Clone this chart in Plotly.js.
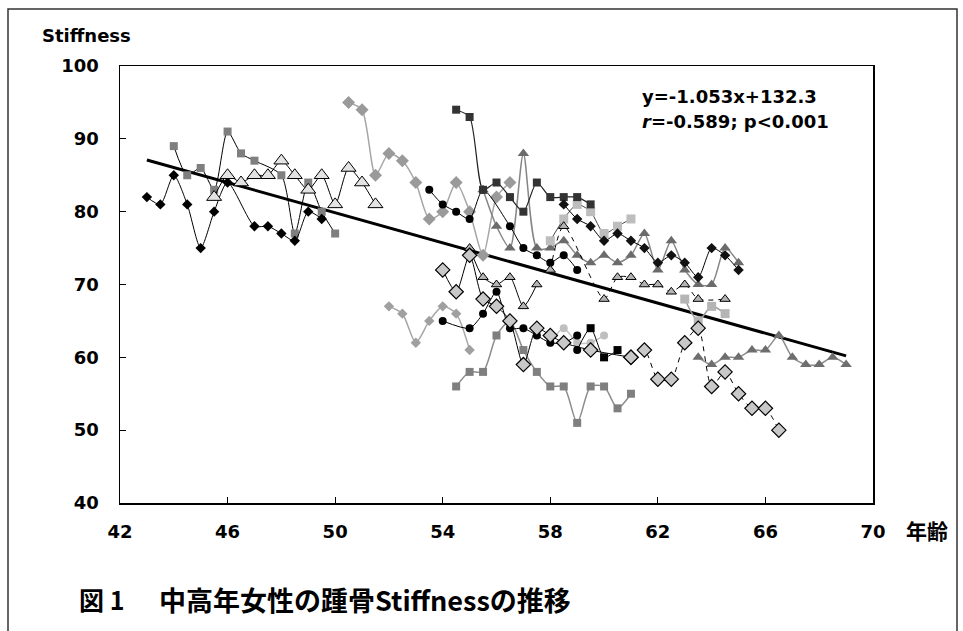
<!DOCTYPE html>
<html>
<head>
<meta charset="utf-8">
<script src="https://cdn.plot.ly/plotly-3.0.1.min.js"></script>
<style>html,body{margin:0;padding:0;background:#fff;}#chart{width:963px;height:631px;}</style>
</head>
<body>
<div id="chart"></div>
<script>
// ---- data (age, Stiffness) ----
const ax = [43,43.5,44,44.5,45,45.5,46,47,47.5,48,48.5,49,49.5];
const ay = [82,81,85,81,75,80,84,78,78,77,76,80,79];
const bx = [44,44.5,45,45.5,46,46.5,47,48,48.5,49,49.5,50];
const by = [89,85,86,83,91,88,87,85,77,84,80,77];
const cx = [45.5,46,46.5,47,47.5,48,48.5,49,49.5,50,50.5,51,51.5];
const cy = [82,85,84,85,85,87,85,83,85,81,86,84,81];
const dx = [50.5,51,51.5,52,52.5,53,53.5,54,54.5,55,55.5,56,56.5];
const dy = [95,94,85,88,87,84,79,80,84,80,74,82,84];
const ex = [53.5,54,54.5,55,55.5,56.5,57,57.5,58,58.5,59];
const ey = [83,81,80,79,83,78,75,74,73,74,72];
const fx = [54.5,55,55.5,56,56.5,57,57.5,58,58.5,59,59.5];
const fy = [94,93,83,84,82,80,84,82,82,82,81];
const gx = [55.5,56,56.5,57,57.5,58,58.5,59,59.5,60,60.5,61,61.5,62,62.5,63,63.5,64,64.5,65];
const gy = [83,78,75,88,75,75,76,74,73,74,73,74,77,72,76,72,70,70,75,73];
const h1x = [55,55.5,56,56.5,57,57.5];
const h1y = [75,71,70,71,67,70];
const h2x = [58,58.5,60,60.5,61,61.5,62,62.5,63,63.5,64.5];
const h2y = [72,78,68,71,71,70,70,69,70,68,68];
const ix = [58.5,59,59.5,60,60.5,61,61.5,62,62.5,63,63.5,64,64.5,65];
const iy = [81,79,78,76,77,76,75,73,74,73,71,75,74,72];
const j1x = [54,54.5,55,55.5,56,56.5,57,57.5,58,58.5,59.5,61];
const j1y = [72,69,74,68,67,65,59,64,63,62,61,60];
const j2x = [61,61.5,62,62.5,63,63.5,64,64.5,65,65.5,66,66.5];
const j2y = [60,61,57,57,62,64,56,58,55,53,53,50];
const kx = [54,55,55.5,56,56.5,57,57.5,58,58.5,59];
const ky = [65,64,66,69,64,64,63,62,62,63];
const lx = [59,59.5,60,60.5];
const ly = [61,64,60,61];
const mx = [58,58.5,59,59.5,60];
const my = [62,64,62,62,63];
const nx = [54.5,55,55.5,56,56.5,57,57.5,58,58.5,59,59.5,60,60.5,61];
const ny = [56,58,58,63,65,61,58,56,56,51,56,56,53,55];
const ox = [52,52.5,53,53.5,54,54.5,55];
const oy = [67,66,62,65,67,66,61];
const px = [63.5,64,64.5,65,65.5,66,66.5,67,67.5,68,68.5,69];
const py = [60,59,60,60,61,61,63,60,59,59,60,59];
const qx = [58,58.5,59,59.5,60,60.5,61];
const qy = [76,79,81,80,77,78,79];
const q2x = [63,63.5,64,64.5];
const q2y = [68,65,67,66];
const fitX = [43,69];
const fitY = [87.1,60.2];
const xTicks = [42,46,50,54,58,62,66,70];
const yTicks = [40,50,60,70,80,90,100];

function tr(x, y, o) {
  return {
    x: x, y: y, type: 'scatter', mode: 'lines+markers', hoverinfo: 'skip',
    line: {color: o.lc, width: o.lw || 1, dash: o.dash || 'solid', shape: 'spline', smoothing: 0.7},
    marker: {symbol: o.sym, size: o.ms, color: o.mc,
             line: {color: o.olc || o.mc, width: o.olw || 0}}
  };
}

const traces = [
  {x: fitX, y: fitY, type: 'scatter', mode: 'lines', hoverinfo: 'skip', line: {color: '#000', width: 3}},
  tr(nx, ny, {lc: '#8c8c8c', lw: 1.5, sym: 'square', ms: 8, mc: '#7f7f7f'}),
  tr(ox, oy, {lc: '#a6a6a6', lw: 1.5, sym: 'diamond', ms: 8, mc: '#a0a0a0'}),
  tr(px, py, {lc: '#8c8c8c', lw: 1.5, sym: 'triangle-up', ms: 10, mc: '#6e6e6e'}),
  tr(dx, dy, {lc: '#a6a6a6', lw: 1.5, sym: 'diamond', ms: 10, mc: '#9a9a9a'}),
  tr(gx, gy, {lc: '#858585', lw: 1.5, sym: 'triangle-up', ms: 10, mc: '#6b6b6b'}),
  tr(mx, my, {lc: '#c4c4c4', lw: 1.5, sym: 'circle', ms: 8, mc: '#bfbfbf'}),
  tr(qx, qy, {lc: '#444', lw: 1, sym: 'square', ms: 9, mc: '#bdbdbd'}),
  tr(q2x, q2y, {lc: '#9a9a9a', lw: 1.5, sym: 'square', ms: 9, mc: '#b5b5b5'}),
  tr(bx, by, {lc: '#000', lw: 1, sym: 'square', ms: 8, mc: '#7f7f7f'}),
  tr(ax, ay, {lc: '#000', lw: 1, sym: 'diamond', ms: 8, mc: '#000'}),
  tr(cx, cy, {lc: '#000', lw: 1, sym: 'triangle-up', ms: 13, mc: '#e3e3e3', olc: '#000', olw: 1}),
  tr(ex, ey, {lc: '#000', lw: 1, sym: 'circle', ms: 8, mc: '#000'}),
  tr(fx, fy, {lc: '#222', lw: 1.2, sym: 'square', ms: 8, mc: '#333'}),
  tr(ix, iy, {lc: '#000', lw: 1, sym: 'diamond', ms: 8, mc: '#111'}),
  tr(h1x, h1y, {lc: '#000', lw: 1, sym: 'triangle-up', ms: 9, mc: '#b3b3b3', olc: '#000', olw: 1}),
  tr(h2x, h2y, {lc: '#000', lw: 1, dash: '5px,5px', sym: 'triangle-up', ms: 9, mc: '#b3b3b3', olc: '#000', olw: 1}),
  tr(kx, ky, {lc: '#000', lw: 1, sym: 'circle', ms: 8, mc: '#000'}),
  tr(lx, ly, {lc: '#000', lw: 1, sym: ['circle','square','square','square'], ms: 8, mc: '#000'}),
  tr(j1x, j1y, {lc: '#000', lw: 1, sym: 'diamond', ms: 11, mc: '#c8c8c8', olc: '#000', olw: 1.2}),
  tr(j2x, j2y, {lc: '#000', lw: 1, dash: '5px,5px', sym: 'diamond', ms: 11, mc: '#c8c8c8', olc: '#000', olw: 1.2})
];

const W = 963, H = 631, L = 120, R = 90, T = 66, B = 127.5;
const pw = W - L - R, ph = H - T - B;
const pxX = p => (p - L) / pw;
const pxY = p => (H - B - p) / ph;
const tickFont = {family: 'DejaVu Sans', size: 18, color: '#000', weight: 'bold'};

const layout = {
  width: W, height: H,
  margin: {l: L, r: R, t: T, b: B, pad: 0},
  paper_bgcolor: '#fff', plot_bgcolor: '#fff',
  showlegend: false,
  xaxis: {
    range: [42, 70], tickvals: xTicks, ticktext: xTicks.map(String),
    ticks: 'inside', ticklen: 6, tickcolor: '#000', tickwidth: 1,
    showline: true, linecolor: '#000', linewidth: 1.5, mirror: true,
    showgrid: false, zeroline: false, tickfont: tickFont, ticklabelstandoff: 12
  },
  yaxis: {
    range: [40, 100], tickvals: yTicks, ticktext: yTicks.map(String),
    ticks: 'inside', ticklen: 6, tickcolor: '#000', tickwidth: 1,
    showline: true, linecolor: '#000', linewidth: 1.5, mirror: true,
    showgrid: false, zeroline: false, tickfont: tickFont, ticklabelstandoff: 16
  },
  shapes: [{
    type: 'rect', xref: 'paper', yref: 'paper',
    x0: pxX(8), x1: pxX(957), y0: pxY(660), y1: pxY(9),
    line: {color: '#333', width: 1.5}, fillcolor: 'rgba(0,0,0,0)', layer: 'below'
  }],
  annotations: [
    {text: 'Stiffness', xref: 'paper', yref: 'paper', x: pxX(40), y: pxY(35),
     xanchor: 'left', yanchor: 'middle', showarrow: false,
     font: {family: 'DejaVu Sans', size: 18, color: '#000', weight: 'bold'}},
    {text: '年齢', xref: 'paper', yref: 'paper', x: pxX(904), y: pxY(531),
     xanchor: 'left', yanchor: 'middle', showarrow: false,
     font: {family: 'Noto Sans CJK JP', size: 21, color: '#000', weight: 'bold'}},
    {text: 'y=-1.053x+132.3', xref: 'paper', yref: 'paper', x: pxX(640), y: pxY(97),
     xanchor: 'left', yanchor: 'middle', showarrow: false,
     font: {family: 'DejaVu Sans', size: 18, color: '#000', weight: 'bold'}},
    {text: '<i>r</i>=-0.589; p&lt;0.001', xref: 'paper', yref: 'paper', x: pxX(640), y: pxY(122),
     xanchor: 'left', yanchor: 'middle', showarrow: false,
     font: {family: 'DejaVu Sans', size: 18, color: '#000', weight: 'bold'}},
    {text: '図 1', xref: 'paper', yref: 'paper', x: pxX(77), y: pxY(600),
     xanchor: 'left', yanchor: 'middle', showarrow: false,
     font: {family: 'Noto Sans CJK JP', size: 25, color: '#000', weight: 'bold'}},
    {text: '中高年女性の踵骨Stiffnessの推移', xref: 'paper', yref: 'paper', x: pxX(157), y: pxY(600),
     xanchor: 'left', yanchor: 'middle', showarrow: false,
     font: {family: 'Noto Sans CJK JP', size: 27, color: '#000', weight: 'bold'}}
  ]
};

Plotly.newPlot('chart', traces, layout, {staticPlot: true, displayModeBar: false});
</script>
</body>
</html>
